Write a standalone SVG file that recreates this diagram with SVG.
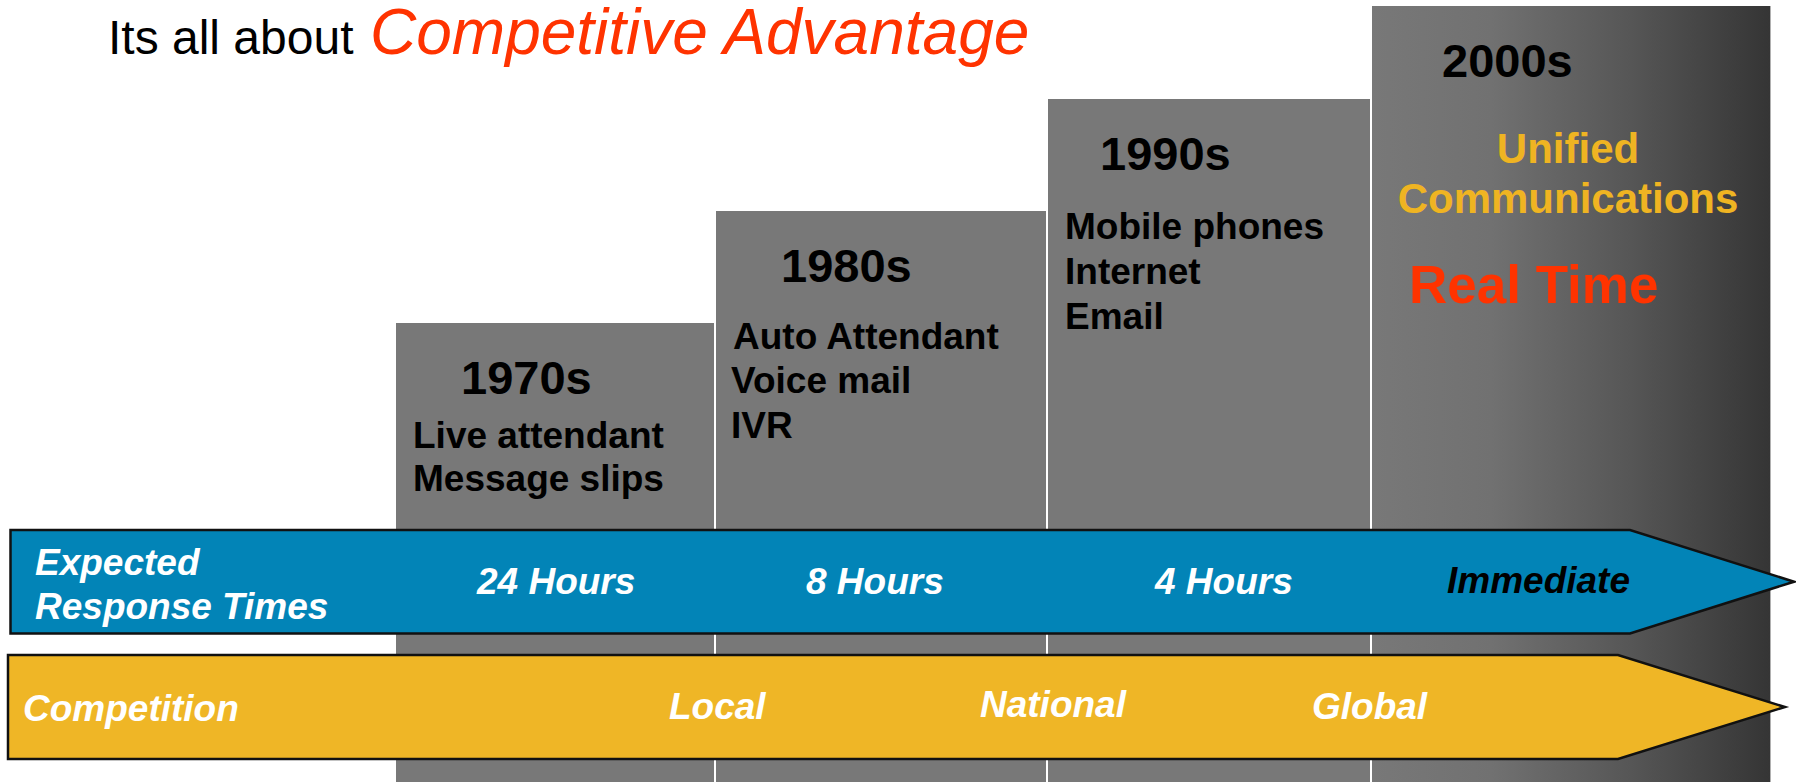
<svg xmlns="http://www.w3.org/2000/svg" width="1796" height="782" viewBox="0 0 1796 782">
<style>
.col{fill:#787878}
.yr{font-family:"Liberation Sans",Arial,sans-serif;font-weight:bold;font-size:47px;fill:#000}
.it{font-family:"Liberation Sans",Arial,sans-serif;font-weight:bold;font-size:37px;fill:#000}
.lbl{font-family:"Liberation Sans",Arial,sans-serif;font-weight:bold;font-style:italic;font-size:37px;fill:#fff}
.band{stroke:#111;stroke-width:2.5;stroke-linejoin:miter}
</style>
<defs>
<linearGradient id="g4" x1="0" y1="0" x2="1" y2="0">
<stop offset="0" stop-color="#787878"/>
<stop offset="0.3" stop-color="#717171"/>
<stop offset="0.65" stop-color="#565656"/>
<stop offset="1" stop-color="#353535"/>
</linearGradient>
</defs>
<rect width="1796" height="782" fill="#fff"/>
<g id="title">
<text x="108" y="54" font-family="Liberation Sans,Arial,sans-serif" font-size="48" fill="#000">Its all about</text>
<text x="370" y="54" font-family="Liberation Sans,Arial,sans-serif" font-size="64" font-style="italic" fill="#FF3300">Competitive Advantage</text>
</g>
<g id="col1970">
<rect class="col" x="396" y="323" width="318" height="459"/>
<text class="yr" x="461" y="394">1970s</text>
<text class="it" x="413" y="448">Live attendant</text>
<text class="it" x="413" y="491">Message slips</text>
</g>
<g id="col1980">
<rect class="col" x="716" y="211" width="330" height="571"/>
<text class="yr" x="781" y="282">1980s</text>
<text class="it" x="733" y="349">Auto Attendant</text>
<text class="it" x="731" y="393">Voice mail</text>
<text class="it" x="731" y="438">IVR</text>
</g>
<g id="col1990">
<rect class="col" x="1048" y="99" width="322" height="683"/>
<text class="yr" x="1100" y="170">1990s</text>
<text class="it" x="1065" y="239">Mobile phones</text>
<text class="it" x="1065" y="284">Internet</text>
<text class="it" x="1065" y="329">Email</text>
</g>
<g id="col2000">
<rect x="1372" y="6" width="398" height="776" fill="url(#g4)"/>
<line x1="1770.5" y1="6" x2="1770.5" y2="782" stroke="#b0b0b0" stroke-width="1"/>
<text class="yr" x="1442" y="77">2000s</text>
<text x="1568" y="163" text-anchor="middle" font-family="Liberation Sans,Arial,sans-serif" font-weight="bold" font-size="42" fill="#EFB422">Unified</text>
<text x="1568" y="213" text-anchor="middle" font-family="Liberation Sans,Arial,sans-serif" font-weight="bold" font-size="42" fill="#EFB422">Communications</text>
<text x="1409" y="303" font-family="Liberation Sans,Arial,sans-serif" font-weight="bold" font-size="53" fill="#FF3300">Real Time</text>
</g>
<g id="connectors">
<g id="response-arrow">
<polygon class="band" fill="#0284B7" points="10.5,530 1630,530 1794,581.7 1630,633.5 10.5,633.5"/>
<text class="lbl" x="35" y="575">Expected</text>
<text class="lbl" x="35" y="619">Response Times</text>
<text class="lbl" x="477" y="594">24 Hours</text>
<text class="lbl" x="806" y="594">8 Hours</text>
<text class="lbl" x="1155" y="594">4 Hours</text>
<text class="lbl" x="1447" y="593" style="fill:#000">Immediate</text>
</g>
<g id="competition-arrow">
<polygon class="band" fill="#EFB626" points="8,655 1618,655 1785,707 1618,759 8,759"/>
<text class="lbl" x="23" y="721">Competition</text>
<text class="lbl" x="669" y="719">Local</text>
<text class="lbl" x="980" y="717">National</text>
<text class="lbl" x="1312" y="719">Global</text>
</g>
</g>
</svg>
